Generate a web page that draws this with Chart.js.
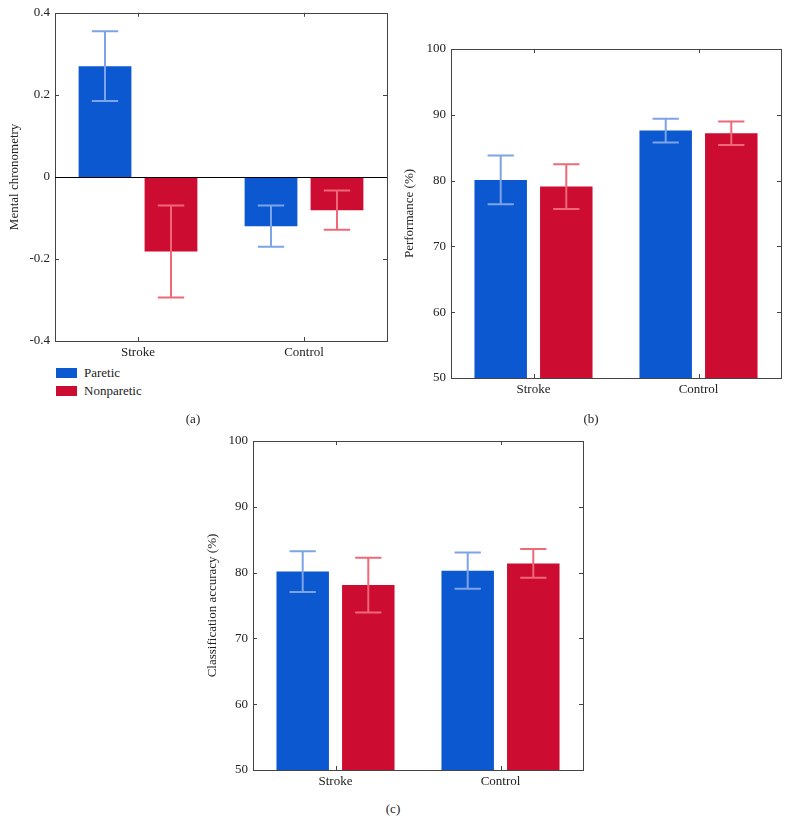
<!DOCTYPE html>
<html>
<head>
<meta charset="utf-8">
<script src="https://cdn.jsdelivr.net/npm/chart.js@4.4.1/dist/chart.umd.min.js"></script>
<style>
  html, body { margin: 0; padding: 0; background: #fff; }
  body { width: 790px; height: 835px; position: relative; overflow: hidden;
         font-family: "Liberation Serif", "DejaVu Serif", serif; color: #222; }
  .panel { position: absolute; }
  .lbl { position: absolute; font-size: 13px; color: #222; transform: translate(-50%, -50%); white-space: nowrap; }
  .leg { position: absolute; font-size: 13px; color: #222; white-space: nowrap; }
  .box { position: absolute; width: 21px; height: 10px; }
</style>
</head>
<body>
<div class="panel" style="left:0;top:0;width:395px;height:362px;"><canvas id="ca" width="395" height="362"></canvas></div>
<div class="panel" style="left:395px;top:0;width:395px;height:400px;"><canvas id="cb" width="395" height="400"></canvas></div>
<div class="panel" style="left:198px;top:420px;width:395px;height:372px;"><canvas id="cc" width="395" height="372"></canvas></div>

<div class="box" style="left:56px;top:368px;background:#0B58D0;"></div>
<div class="leg" style="left:84px;top:365px;">Paretic</div>
<div class="box" style="left:56px;top:386px;background:#CC0C30;"></div>
<div class="leg" style="left:84px;top:383px;">Nonparetic</div>

<div class="lbl" style="left:193px;top:419px;">(a)</div>
<div class="lbl" style="left:591px;top:419px;">(b)</div>
<div class="lbl" style="left:393px;top:809px;">(c)</div>

<script>
// ---------- data ----------
const categories = ["Stroke", "Control"];
const seriesNames = ["Paretic", "Nonparetic"];

// (a) Mental chronometry
const chronoParetic = [0.27, -0.12];
const chronoNonparetic = [-0.182, -0.081];
const chronoPareticErr = [0.085, 0.05];
const chronoNonpareticErr = [0.112, 0.048];
const chronoTicks = [-0.4, -0.2, 0, 0.2, 0.4];

// (b) Performance (%)
const perfParetic = [80.1, 87.6];
const perfNonparetic = [79.1, 87.2];
const perfPareticErr = [3.7, 1.8];
const perfNonpareticErr = [3.4, 1.8];

// (c) Classification accuracy (%)
const accParetic = [80.15, 80.3];
const accNonparetic = [78.1, 81.4];
const accPareticErr = [3.1, 2.75];
const accNonpareticErr = [4.15, 2.2];

const pctTicks = [50, 60, 70, 80, 90, 100];

// ---------- styles ----------
const BLUE = "#0B58D0", RED = "#CC0C30";
const BLUE_ERR = "#7DA4E6", RED_ERR = "#EE6878";
const FONT = { family: "'Liberation Serif', 'DejaVu Serif', serif", size: 13 };

const errorBars = {
  id: "errorBars",
  afterDatasetsDraw(chart) {
    const ctx = chart.ctx, y = chart.scales.y;
    chart.data.datasets.forEach((ds, i) => {
      const meta = chart.getDatasetMeta(i);
      meta.data.forEach((el, j) => {
        const v = ds.data[j], e = ds.errors[j];
        const yHi = y.getPixelForValue(v + e), yLo = y.getPixelForValue(v - e);
        const half = el.width * 0.25;
        ctx.save();
        ctx.strokeStyle = ds.errorColor;
        ctx.lineWidth = 2;
        ctx.beginPath();
        ctx.moveTo(el.x, yHi); ctx.lineTo(el.x, yLo);
        ctx.moveTo(el.x - half, yHi); ctx.lineTo(el.x + half, yHi);
        ctx.moveTo(el.x - half, yLo); ctx.lineTo(el.x + half, yLo);
        ctx.stroke();
        ctx.restore();
      });
    });
  }
};

const frame = {
  id: "frame",
  afterDatasetsDraw(chart) {
    const ctx = chart.ctx, a = chart.chartArea, y = chart.scales.y, x = chart.scales.x;
    ctx.save();
    ctx.strokeStyle = "#444";
    ctx.lineWidth = 1;
    ctx.strokeRect(Math.round(a.left) + 0.5, Math.round(a.top) + 0.5,
                   Math.round(a.right - a.left), Math.round(a.bottom - a.top));
    ctx.beginPath();
    y.ticks.forEach(t => {
      const py = Math.round(y.getPixelForValue(t.value)) + 0.5;
      ctx.moveTo(a.left, py); ctx.lineTo(a.left + 4, py);
      ctx.moveTo(a.right, py); ctx.lineTo(a.right - 4, py);
    });
    x.ticks.forEach((t, i) => {
      const px = Math.round(x.getPixelForTick(i)) + 0.5;
      ctx.moveTo(px, a.top); ctx.lineTo(px, a.top + 4);
      ctx.moveTo(px, a.bottom); ctx.lineTo(px, a.bottom - 4);
    });
    ctx.stroke();
    if (y.min < 0 && y.max > 0) {
      const pz = Math.round(y.getPixelForValue(0)) + 0.5;
      ctx.strokeStyle = "#000";
      ctx.beginPath(); ctx.moveTo(a.left, pz); ctx.lineTo(a.right, pz); ctx.stroke();
    }
    ctx.restore();
  }
};

function makeChart(id, pData, nData, pErr, nErr, ticks, yTitle, pad, yW, xH) {
  return new Chart(document.getElementById(id), {
    type: "bar",
    data: {
      labels: categories,
      datasets: [
        { label: seriesNames[0], data: pData, errors: pErr, errorColor: BLUE_ERR,
          backgroundColor: BLUE, categoryPercentage: 0.795, barPercentage: 0.8 },
        { label: seriesNames[1], data: nData, errors: nErr, errorColor: RED_ERR,
          backgroundColor: RED, categoryPercentage: 0.795, barPercentage: 0.8 }
      ]
    },
    options: {
      responsive: false,
      animation: false,
      layout: { padding: pad },
      plugins: { legend: { display: false }, tooltip: { enabled: false } },
      scales: {
        x: {
          grid: { display: false, drawTicks: false },
          border: { display: false },
          ticks: { font: FONT, color: "#222", padding: 4 },
          afterFit(s) { s.height = xH; }
        },
        y: {
          min: ticks[0], max: ticks[ticks.length - 1],
          afterBuildTicks(s) { s.ticks = ticks.map(v => ({ value: v })); },
          grid: { display: false, drawTicks: false },
          border: { display: false },
          ticks: { font: FONT, color: "#222", padding: 5,
                    callback: v => String(v) },
          title: { display: true, text: yTitle, font: FONT, color: "#222",
                   padding: { top: 7, bottom: 0 } },
          afterFit(s) { s.width = yW; }
        }
      }
    },
    plugins: [errorBars, frame]
  });
}

makeChart("ca", chronoParetic, chronoNonparetic, chronoPareticErr, chronoNonpareticErr,
          chronoTicks, "Mental chronometry", { left: 0, top: 12, right: 8, bottom: 0 }, 55, 21);
makeChart("cb", perfParetic, perfNonparetic, perfPareticErr, perfNonpareticErr,
          pctTicks, "Performance (%)", { left: 0, top: 49, right: 9, bottom: 0 }, 56, 22);
makeChart("cc", accParetic, accNonparetic, accPareticErr, accNonpareticErr,
          pctTicks, "Classification accuracy (%)", { left: 0, top: 21, right: 10, bottom: 0 }, 55, 22);
</script>
</body>
</html>
